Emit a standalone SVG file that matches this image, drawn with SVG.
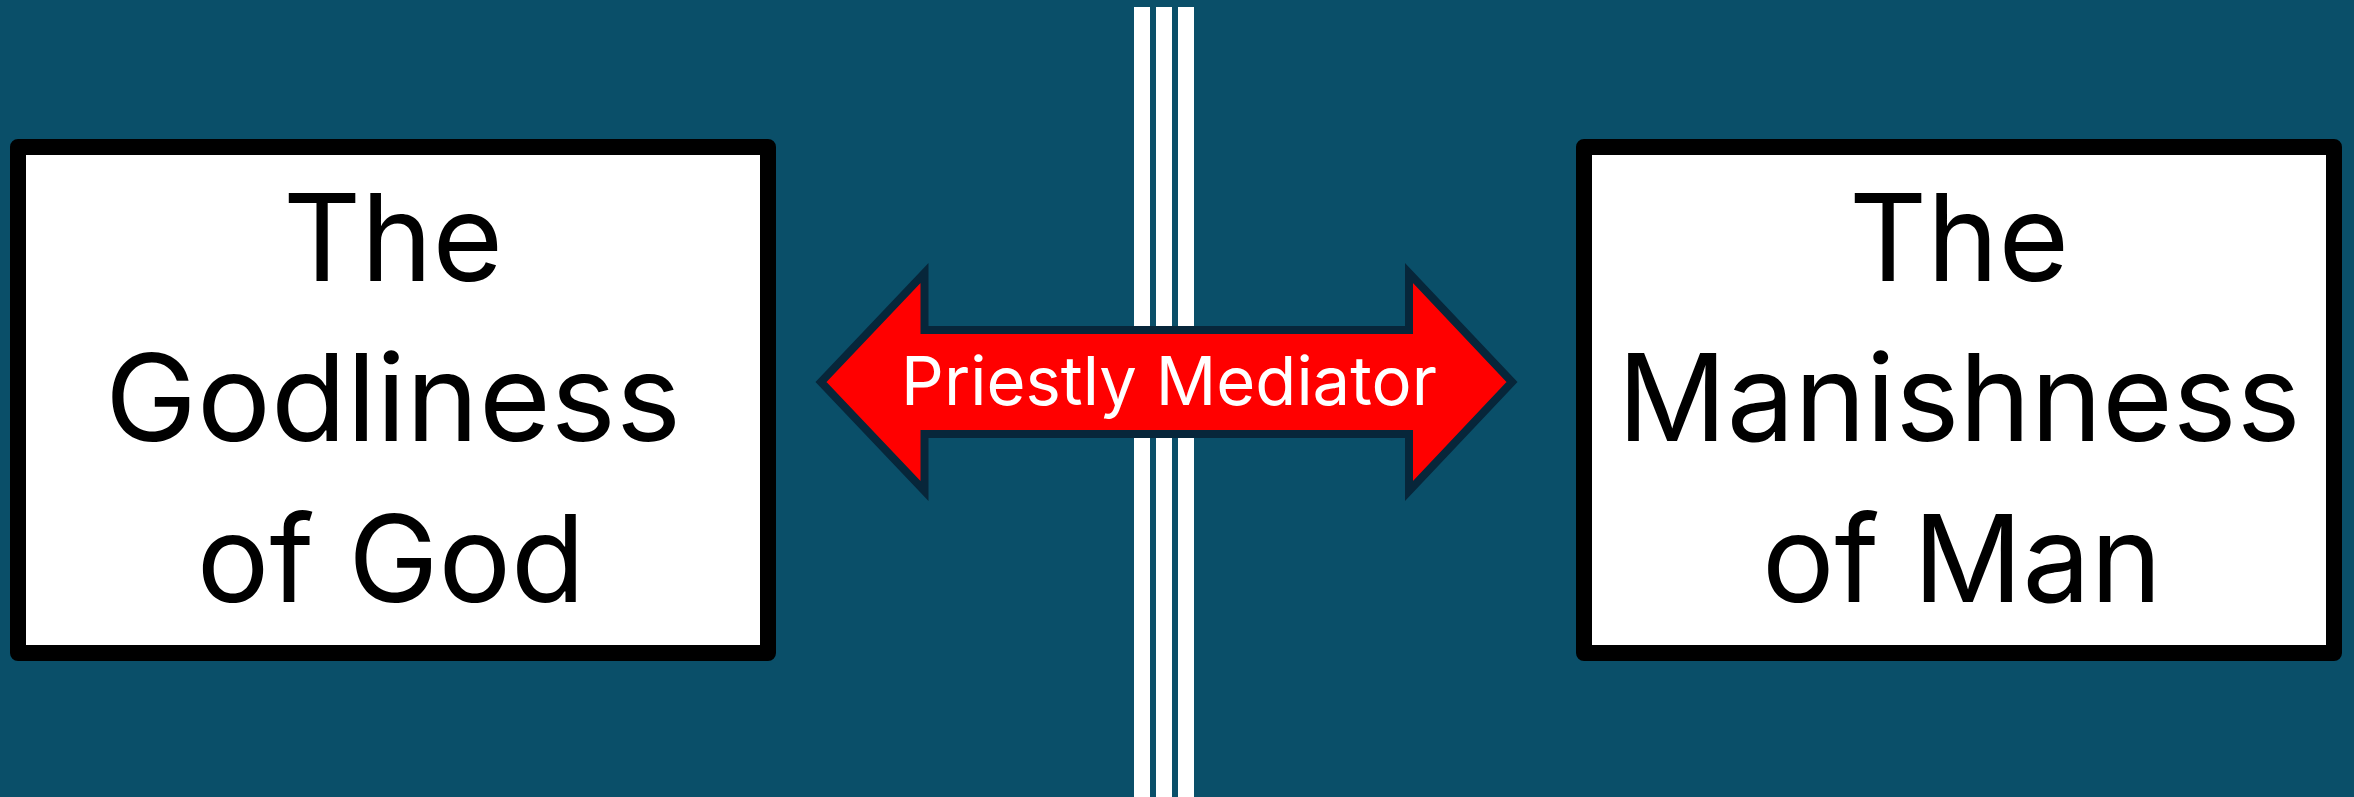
<svg xmlns="http://www.w3.org/2000/svg" width="2354" height="797" viewBox="0 0 2354 797">
<style>
.box{fill:#ffffff;stroke:#000000;stroke-width:16;stroke-linejoin:round}
.big{font-family:Inter,"Noto Sans","Liberation Sans",sans-serif;font-size:121px;fill:#000000;text-anchor:middle}
.lbl{font-family:Inter,"Noto Sans","Liberation Sans",sans-serif;font-size:67px;fill:#ffffff;text-anchor:middle}
.bar{fill:#ffffff}
</style>
<rect x="0" y="0" width="2354" height="797" fill="#0a4f69"/>
<g id="divider">
<rect class="bar" x="1134" y="7" width="16" height="790"/>
<rect class="bar" x="1156" y="7" width="16" height="790"/>
<rect class="bar" x="1178" y="7" width="16" height="790"/>
</g>
<g id="node-god">
<rect class="box" x="18" y="147" width="750" height="506"/>
<text class="big" x="393" y="281">The</text>
<text class="big" x="393" y="441" textLength="576" lengthAdjust="spacingAndGlyphs">Godliness</text>
<text class="big" x="391" y="602">of God</text>
</g>
<g id="node-man">
<rect class="box" x="1584" y="147" width="750" height="506"/>
<text class="big" x="1959" y="281">The</text>
<text class="big" x="1959" y="441">Manishness</text>
<text class="big" x="1962" y="602">of Man</text>
</g>
<g id="connectors">
<path d="M821 382 L924.5 273 L924.5 330 L1409 330 L1409 273 L1512 382 L1409 491 L1409 434 L924.5 434 L924.5 491 Z" fill="#ff0000" stroke="#07263a" stroke-width="8"/>
<text class="lbl" x="1169" y="405">Priestly Mediator</text>
</g>
</svg>
